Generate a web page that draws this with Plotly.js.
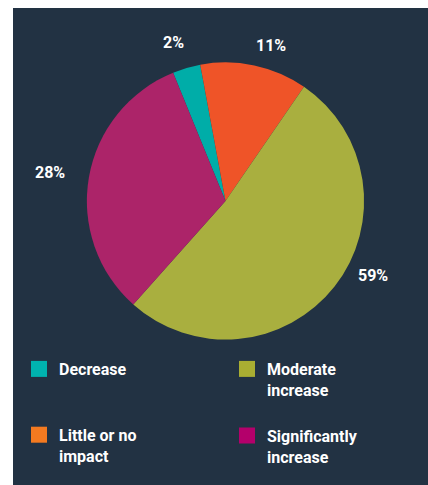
<!DOCTYPE html>
<html>
<head>
<meta charset="utf-8">
<script src="https://cdn.plot.ly/plotly-3.0.1.min.js"></script>
<style>html,body{margin:0;padding:0;background:#fff;}#chart{width:428px;height:485px;}</style>
</head>
<body>
<div id="chart"></div>
<script>
// ---- data (slice order clockwise from top-left) ----
var categories = ['Decrease', 'Little or no impact', 'Moderate increase', 'Significantly increase'];
var sliceValues = [3.25, 12.5, 52.0, 32.25];
var valueLabels = ['2%', '11%', '59%', '28%'];          // printed labels
var legendNames = ['Decrease', 'Little or no<br>impact', 'Moderate<br>increase', 'Significantly<br>increase'];

// ---- styles / layout ----
var navy = '#223243';
var sliceColors = ['#00ADA8', '#EF5428', '#A9AF3F', '#AC2469'];
var legendColors = ['#00B3AF', '#F47A20', '#A9AE32', '#B4006B'];
var legendOf = ['legend', 'legend', 'legend2', 'legend2'];
var labelPx = [[173, 42.5], [271, 45], [373, 275], [50, 173]];
var W = 428, H = 485, mL = 13, mT = 8;
var pw = W - mL, ph = H - mT;
var fontFam = 'Roboto, "Open Sans", sans-serif';

var traces = [{
  type: 'pie',
  labels: categories,
  values: sliceValues,
  sort: false,
  direction: 'clockwise',
  rotation: -22.2,
  marker: {colors: sliceColors, line: {width: 0}},
  textinfo: 'none',
  hoverinfo: 'label+percent',
  showlegend: false,
  domain: {x: [0.178, 0.846], y: [0.3046, 0.8862]}
}];

categories.forEach(function (c, i) {
  traces.push({
    type: 'scatter', mode: 'markers', x: [null], y: [null],
    name: legendNames[i], legendgroup: 'g' + i, legend: legendOf[i],
    marker: {symbol: 'square', size: 16, color: legendColors[i]},
    hoverinfo: 'skip'
  });
});

var annotations = valueLabels.map(function (t, i) {
  return {
    text: t, showarrow: false,
    xref: 'paper', yref: 'paper',
    x: (labelPx[i][0] - mL) / pw, y: 1 - (labelPx[i][1] - mT) / ph,
    xanchor: 'center', yanchor: 'middle',
    font: {family: fontFam, size: 16, color: '#ffffff', weight: 'bold'}
  };
});

var legendBase = {
  xref: 'container', yref: 'container',
  xanchor: 'left', yanchor: 'top',
  orientation: 'v', traceorder: 'grouped', valign: 'top',
  bgcolor: 'rgba(0,0,0,0)', borderwidth: 0,
  font: {family: fontFam, size: 16, color: '#ffffff', weight: 'bold'},
  itemclick: false, itemdoubleclick: false
};

var layout = {
  width: W, height: H,
  margin: {l: mL, t: mT, r: 0, b: 0, pad: 0, autoexpand: false},
  paper_bgcolor: '#ffffff',
  plot_bgcolor: navy,
  xaxis: {visible: false, range: [0, 1]},
  yaxis: {visible: false, range: [0, 1]},
  shapes: [{type: 'rect', xref: 'paper', yref: 'paper', x0: 0, x1: 1, y0: 0, y1: 1,
            fillcolor: navy, line: {width: 0}, layer: 'below'}],
  annotations: annotations,
  showlegend: true,
  legend: Object.assign({}, legendBase, {x: 19 / W, y: 1 - 352 / H, tracegroupgap: 42}),
  legend2: Object.assign({}, legendBase, {x: 227 / W, y: 1 - 352 / H, tracegroupgap: 22})
};

Plotly.newPlot('chart', traces, layout, {displayModeBar: false, staticPlot: true});
</script>
</body>
</html>
